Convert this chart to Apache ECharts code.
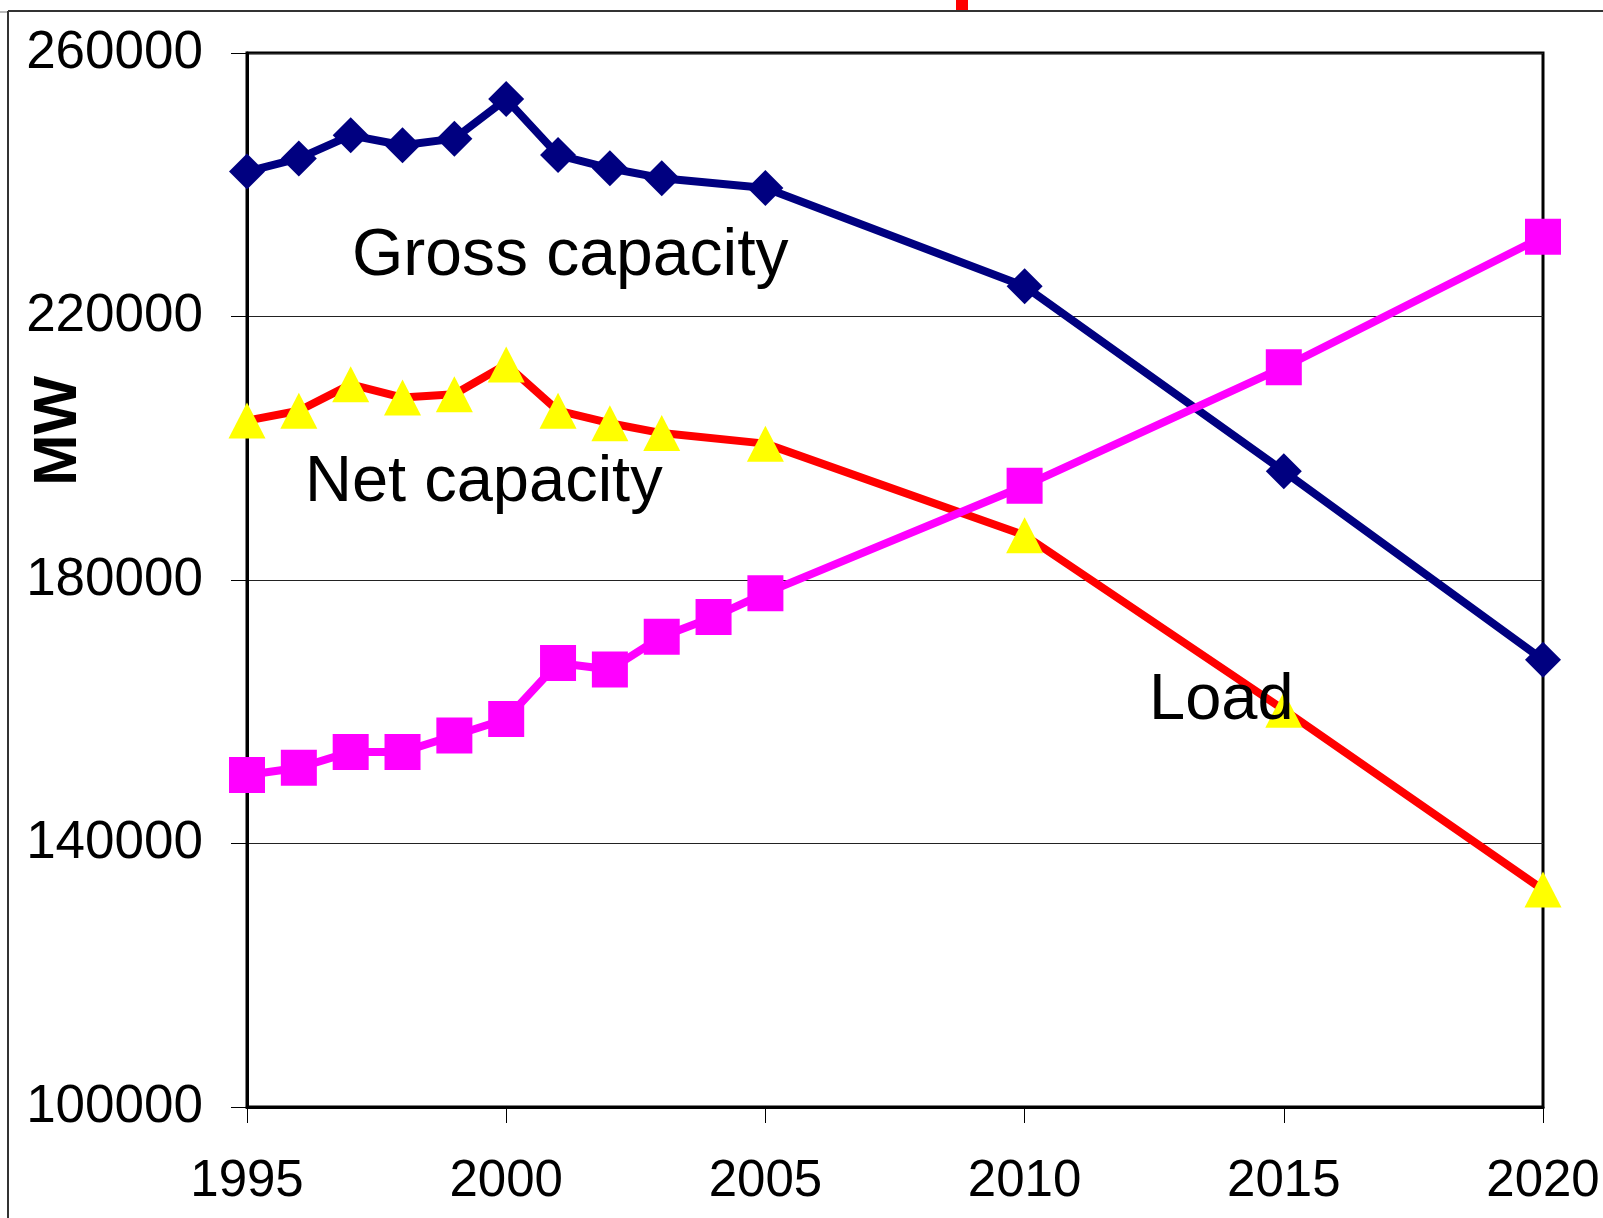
<!DOCTYPE html>
<html>
<head>
<meta charset="utf-8">
<script src="https://cdn.jsdelivr.net/npm/echarts@6/dist/echarts.min.js"></script>
<style>
  html, body { margin: 0; padding: 0; background: #fff; }
  #chart { width: 1603px; height: 1218px; }
</style>
</head>
<body>
<div id="chart"></div>
<script>
// Years and values (MW)
const grossYears = [1995, 1996, 1997, 1998, 1999, 2000, 2001, 2002, 2003, 2005, 2010, 2015, 2020];
const grossCapacity = [242000, 244000, 247500, 246000, 247000, 253000, 244500, 242500, 241000, 239500, 224600, 196500, 167900];

const netYears = [1995, 1996, 1997, 1998, 1999, 2000, 2001, 2002, 2003, 2005, 2010, 2015, 2020];
const netCapacity = [204200, 205700, 209700, 207700, 208200, 212700, 205700, 203800, 202300, 200700, 186800, 160300, 133000];

const loadYears = [1995, 1996, 1997, 1998, 1999, 2000, 2001, 2002, 2003, 2004, 2005, 2010, 2015, 2020];
const loadValues = [150400, 151500, 153900, 153900, 156400, 158900, 167400, 166400, 171400, 174400, 178000, 194300, 212300, 232100];

const yTicks = [100000, 140000, 180000, 220000, 260000];
const xTicks = [1995, 2000, 2005, 2010, 2015, 2020];
const axisTitle = 'MW';
const seriesNames = ['Gross capacity', 'Net capacity', 'Load'];

const FONT = '"Liberation Sans", Arial, Helvetica, sans-serif';

function pairs(xs, ys) { return xs.map((x, i) => [x, ys[i]]); }

const chart = echarts.init(document.getElementById('chart'), null, { renderer: 'canvas' });

chart.setOption({
  animation: false,
  backgroundColor: '#ffffff',
  grid: {
    left: 247, top: 53, right: 60, bottom: 111,
    show: true, borderColor: '#000', borderWidth: 3, backgroundColor: 'transparent'
  },
  xAxis: {
    type: 'value',
    min: xTicks[0], max: xTicks[xTicks.length - 1], interval: 5,
    axisLine: { show: true, lineStyle: { color: '#000', width: 3 } },
    axisTick: { show: true, length: 16, lineStyle: { color: '#000', width: 1 } },
    axisLabel: {
      fontSize: 51, fontFamily: FONT, color: '#000', margin: 75,
      verticalAlign: 'middle', formatter: v => String(v)
    },
    splitLine: { show: false }
  },
  yAxis: {
    type: 'value',
    min: yTicks[0], max: yTicks[yTicks.length - 1], interval: 40000,
    axisLine: { show: true, lineStyle: { color: '#000', width: 3 } },
    axisTick: { show: true, length: 16, lineStyle: { color: '#000', width: 1 } },
    axisLabel: { fontSize: 53, fontFamily: FONT, color: '#000', margin: 44, formatter: v => String(v) },
    splitLine: { show: true, lineStyle: { color: '#222', width: 1 } }
  },
  series: [
    {
      name: seriesNames[0], type: 'line', data: pairs(grossYears, grossCapacity),
      symbol: 'diamond', symbolSize: [36, 36],
      lineStyle: { color: '#000080', width: 8 },
      itemStyle: { color: '#000080' }, z: 3
    },
    {
      name: seriesNames[1], type: 'line', data: pairs(netYears, netCapacity),
      symbol: 'triangle', symbolSize: [37, 36],
      lineStyle: { color: '#ff0000', width: 8 },
      itemStyle: { color: '#ffff00' }, z: 4
    },
    {
      name: seriesNames[2], type: 'line', data: pairs(loadYears, loadValues),
      symbol: 'rect', symbolSize: 36,
      lineStyle: { color: '#ff00ff', width: 8 },
      itemStyle: { color: '#ff00ff' }, z: 5
    }
  ],
  graphic: [
    // outer frame edges
    { type: 'line', shape: { x1: 8, y1: 11, x2: 1603, y2: 11 }, style: { stroke: '#333', lineWidth: 2 }, z: 10 },
    { type: 'line', shape: { x1: 8, y1: 11, x2: 8, y2: 1218 }, style: { stroke: '#333', lineWidth: 2 }, z: 10 },
    { type: 'line', shape: { x1: 0, y1: 12, x2: 7, y2: 12 }, style: { stroke: '#bbb', lineWidth: 2 }, z: 10 },
    { type: 'rect', shape: { x: 956, y: 0, width: 12, height: 10 }, style: { fill: '#ff0000' }, z: 10 },
    // axis title
    {
      type: 'text', x: 59, y: 431, rotation: Math.PI / 2,
      style: { text: axisTitle, font: 'bold 62px ' + FONT, fill: '#000', align: 'center', verticalAlign: 'middle' },
      z: 20
    },
    // series annotations
    {
      type: 'text', x: 352, y: 257,
      style: { text: seriesNames[0], font: '66px ' + FONT, fill: '#000', align: 'left', verticalAlign: 'middle' },
      z: 20
    },
    {
      type: 'text', x: 305, y: 483,
      style: { text: seriesNames[1], font: '65px ' + FONT, fill: '#000', align: 'left', verticalAlign: 'middle' },
      z: 20
    },
    {
      type: 'text', x: 1149, y: 701,
      style: { text: seriesNames[2], font: '65px ' + FONT, fill: '#000', align: 'left', verticalAlign: 'middle' },
      z: 20
    }
  ]
});
</script>
</body>
</html>
